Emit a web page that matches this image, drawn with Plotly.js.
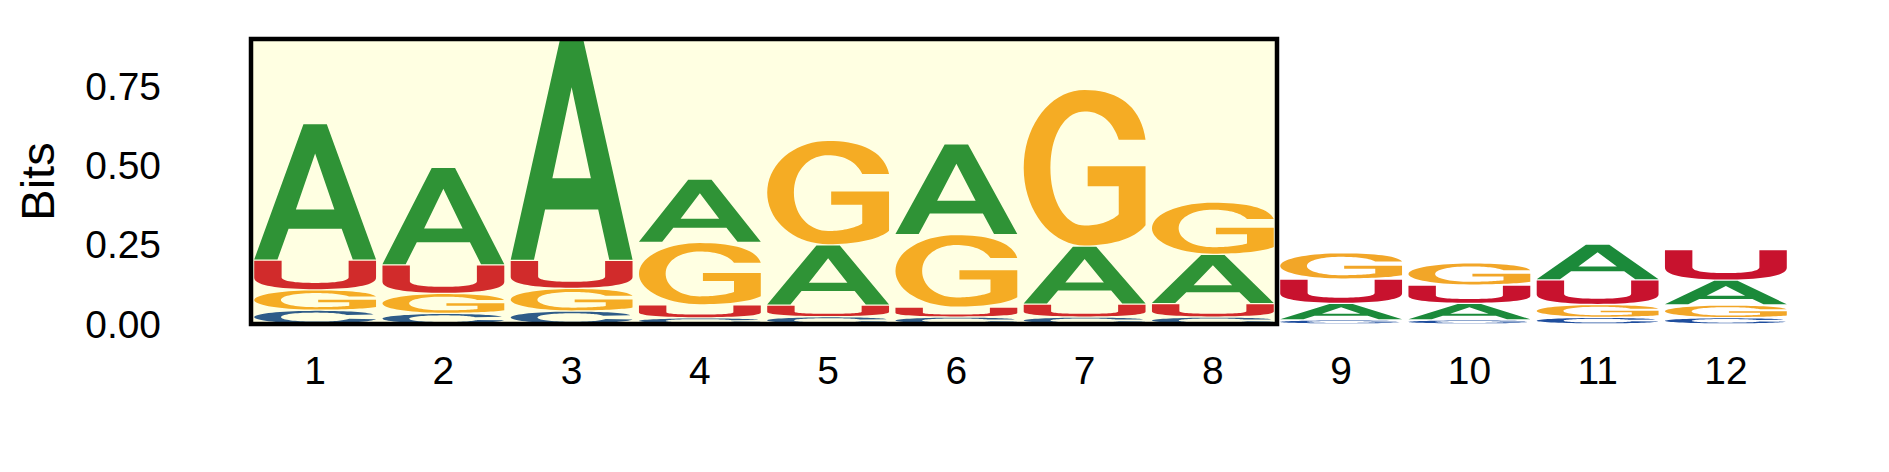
<!DOCTYPE html>
<html>
<head>
<meta charset="utf-8">
<script src="https://cdn.plot.ly/plotly-3.0.1.min.js"></script>
<style>
html,body{margin:0;padding:0;background:#fff;}
#chart{width:1889px;height:472px;}
</style>
</head>
<body>
<div id="chart"></div>
<script>
// ---------------- data (information content in bits, per position) ----------------
const positions  = [1, 2, 3, 4, 5, 6, 7, 8, 9, 10, 11, 12];
const tickLabels = ['1','2','3','4','5','6','7','8','9','10','11','12'];
const bitsA = [0.4315, 0.308, 0.699, 0.200, 0.1905, 0.2865, 0.1835, 0.156, 0.052, 0.052, 0.1125, 0.0783];
const bitsC = [0.0435, 0.0335, 0.041, 0.0195, 0.023, 0.022, 0.022, 0.022, 0.013, 0.013, 0.021, 0.020];
const bitsG = [0.0645, 0.063, 0.0715, 0.197, 0.330, 0.2295, 0.495, 0.165, 0.083, 0.070, 0.0405, 0.040];
const bitsU = [0.0935, 0.0905, 0.0885, 0.041, 0.0365, 0.031, 0.0405, 0.042, 0.077, 0.058, 0.078, 0.0967];
const yTickVals  = [0, 0.25, 0.5, 0.75];
const yTickText  = ['0.00', '0.25', '0.50', '0.75'];
const highlightFrom = 1;
const highlightTo   = 8;

// ---------------- glyph outlines (unit box, y up) ----------------
const GLYPHS = {
  A: [
    [['M',0,0],['L',0.191,0],['L',0.282,0.228],['L',0.718,0.228],['L',0.809,0],['L',1,0],['L',0.596,1],['L',0.404,1]],
    [['M',0.5,0.784],['L',0.658,0.370],['L',0.342,0.370]]
  ],
  G: [
    [['M',1.0,0.68],
     ['C',0.96,0.90,0.77,1.0,0.5,1.0],
     ['C',0.224,1.0,0,0.776,0,0.5],
     ['C',0,0.224,0.224,0,0.5,0],
     ['C',0.74,0,0.92,0.05,1.0,0.13],
     ['L',1.0,0.51],['L',0.525,0.51],['L',0.525,0.381],['L',0.78,0.381],['L',0.78,0.2],
     ['C',0.71,0.15,0.6,0.128,0.5,0.128],
     ['C',0.345,0.128,0.219,0.28,0.219,0.5],
     ['C',0.219,0.72,0.345,0.862,0.5,0.862],
     ['C',0.63,0.862,0.73,0.80,0.78,0.68]]
  ],
  U: [
    [['M',0,1],['L',0.225,1],['L',0.225,0.42],
     ['C',0.225,0.28,0.34,0.22,0.5,0.22],
     ['C',0.66,0.22,0.775,0.28,0.775,0.42],
     ['L',0.775,1],['L',1,1],['L',1,0.4],
     ['C',1,0.13,0.8,0,0.5,0],
     ['C',0.2,0,0,0.13,0,0.4]]
  ],
  C: [
    [['M',0.98,0.70],
     ['C',0.94,0.90,0.76,1,0.5,1],
     ['C',0.224,1,0,0.776,0,0.5],
     ['C',0,0.224,0.224,0,0.5,0],
     ['C',0.76,0,0.95,0.12,1,0.33],
     ['L',0.78,0.37],
     ['C',0.74,0.22,0.64,0.14,0.5,0.14],
     ['C',0.34,0.14,0.22,0.28,0.22,0.5],
     ['C',0.22,0.72,0.34,0.86,0.5,0.86],
     ['C',0.63,0.86,0.72,0.79,0.76,0.66]]
  ]
};

function flatten(contour) {
  const pts = [];
  let cx = 0, cy = 0;
  contour.forEach(cmd => {
    if (cmd[0] === 'M' || cmd[0] === 'L') {
      cx = cmd[1]; cy = cmd[2]; pts.push([cx, cy]);
    } else if (cmd[0] === 'C') {
      const [, x1, y1, x2, y2, x3, y3] = cmd;
      const N = 18;
      for (let i = 1; i <= N; i++) {
        const t = i / N, s = 1 - t;
        const x = s*s*s*cx + 3*s*s*t*x1 + 3*s*t*t*x2 + t*t*t*x3;
        const y = s*s*s*cy + 3*s*s*t*y1 + 3*s*t*t*y2 + t*t*t*y3;
        pts.push([x, y]);
      }
      cx = x3; cy = y3;
    }
  });
  return pts;
}
const FLAT = {};
Object.keys(GLYPHS).forEach(k => { FLAT[k] = GLYPHS[k].map(flatten); });

// ---------------- stacking ----------------
const letters = ['A', 'C', 'G', 'U'];
const bits = {A: bitsA, C: bitsC, G: bitsG, U: bitsU};
const colorsIn  = {A: '#2F9336', C: '#2F5C88', G: '#F5AC24', U: '#D12B2B'};
const colorsOut = {A: '#1B8A3A', C: '#1F4E9E', G: '#F2A628', U: '#C8122E'};
const barWidth = 0.95;
const gap = 0.004;

const geo = {};
letters.forEach(L => { geo[L] = {in: {x: [], y: []}, out: {x: [], y: []}}; });

const totals = positions.map((p, i) => letters.reduce((s, L) => s + bits[L][i], 0));
const yMax = Math.max.apply(null, totals);

positions.forEach((p, i) => {
  const order = letters.slice().sort((a, b) => bits[a][i] - bits[b][i]);
  let base = 0;
  const grp = (p >= highlightFrom && p <= highlightTo) ? 'in' : 'out';
  order.forEach(L => {
    const h = bits[L][i];
    const y0 = base + gap / 2, y1 = base + h - gap / 2;
    const x0 = p - barWidth / 2;
    const tgt = geo[L][grp];
    FLAT[L].forEach(contour => {
      contour.forEach(([u, v]) => {
        tgt.x.push(x0 + barWidth * u);
        tgt.y.push(y0 + (y1 - y0) * v);
      });
      tgt.x.push(null); tgt.y.push(null);
    });
    base += h;
  });
});

const traces = [];
['in', 'out'].forEach(grp => {
  letters.forEach(L => {
    traces.push({
      type: 'scatter',
      mode: 'none',
      x: geo[L][grp].x,
      y: geo[L][grp].y,
      fill: 'toself',
      fillcolor: grp === 'in' ? colorsIn[L] : colorsOut[L],
      hoverinfo: 'skip',
      name: L,
      showlegend: false
    });
  });
});

const xMin = positions[0] - 0.5, xMax = positions[positions.length - 1] + 0.5;

const layout = {
  width: 1889,
  height: 472,
  margin: {l: 250.8, r: 98.5, t: 38.5, b: 148, pad: 0},
  paper_bgcolor: '#ffffff',
  plot_bgcolor: '#ffffff',
  showlegend: false,
  font: {family: '"Liberation Sans", Arial, Helvetica, sans-serif', color: '#000000'},
  xaxis: {
    range: [xMin, xMax],
    tickmode: 'array',
    tickvals: positions,
    ticktext: tickLabels,
    showgrid: false, zeroline: false, showline: false,
    ticks: '',
    tickfont: {size: 38.9, color: '#000'},
    ticklabelstandoff: 20,
    fixedrange: true
  },
  yaxis: {
    range: [0, yMax],
    tickmode: 'array',
    tickvals: yTickVals,
    ticktext: yTickText,
    showgrid: false, zeroline: false, showline: false,
    ticks: '',
    tickfont: {size: 38.9, color: '#000'},
    ticklabelstandoff: 89,
    title: {text: 'Bits', font: {size: 47, color: '#000'}, standoff: 15},
    fixedrange: true
  },
  shapes: [
    {
      type: 'rect', xref: 'x', yref: 'y',
      x0: highlightFrom - 0.5, x1: highlightTo + 0.5, y0: 0, y1: yMax,
      fillcolor: '#FFFFE2', line: {width: 0}, layer: 'below'
    },
    {
      type: 'rect', xref: 'paper', yref: 'paper',
      x0: (highlightFrom - 0.5 - xMin) / (xMax - xMin),
      x1: (highlightTo + 0.5 - xMin) / (xMax - xMin),
      y0: 0, y1: 1,
      fillcolor: 'rgba(0,0,0,0)', line: {width: 4.5, color: '#000'}, layer: 'above'
    }
  ]
};

Plotly.newPlot('chart', traces, layout, {staticPlot: true, displayModeBar: false});
</script>
</body>
</html>
